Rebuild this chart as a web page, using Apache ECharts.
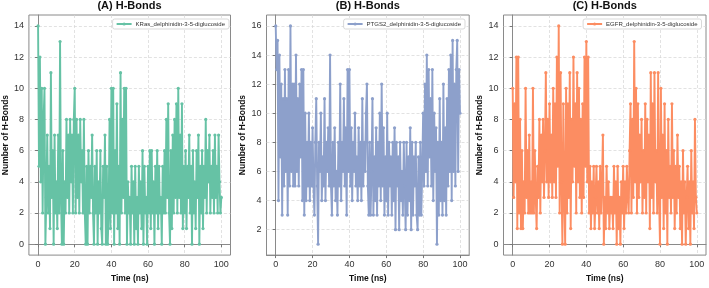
<!DOCTYPE html>
<html>
<head>
<meta charset="utf-8">
<script src="https://cdn.jsdelivr.net/npm/echarts@6/dist/echarts.min.js"></script>
<style>
  html, body { margin: 0; padding: 0; background: #fff; }
  #chart { width: 709px; height: 288px; }
</style>
</head>
<body>
<div id="chart"></div>
<script>
// H-bond counts, one sample every 0.5 ns (0 - 100 ns)
const kras = [
  14, 5, 12, 4, 10, 2, 8, 10, 0, 3, 7, 2, 5, 1, 11, 3, 6, 0, 7, 2,
  4, 1, 7, 2, 13, 3, 0, 6, 0, 4, 2, 8, 3, 7, 2, 8, 4, 7, 2, 8,
  10, 2, 8, 3, 7, 2, 8, 4, 6, 2, 8, 2, 0, 5, 0, 6, 2, 5, 3, 7,
  2, 0, 5, 2, 6, 0, 4, 2, 6, 1, 0, 5, 3, 7, 0, 5, 0, 2, 8, 1,
  10, 2, 10, 0, 6, 2, 9, 1, 5, 0, 11, 2, 8, 3, 10, 2, 10, 0, 4, 2,
  3, 0, 5, 2, 4, 0, 5, 1, 3, 0, 5, 2, 4, 1, 6, 0, 5, 2, 3, 0,
  5, 2, 6, 1, 6, 2, 4, 0, 5, 2, 6, 1, 5, 2, 3, 0, 5, 2, 6, 2,
  8, 3, 9, 2, 0, 6, 1, 7, 2, 8, 3, 9, 2, 10, 3, 7, 2, 9, 1, 5,
  2, 6, 1, 5, 3, 7, 2, 5, 0, 6, 2, 4, 1, 6, 3, 7, 0, 5, 2, 6,
  1, 5, 3, 8, 2, 6, 4, 7, 2, 5, 3, 6, 2, 7, 3, 5, 2, 7, 4, 2, 3
];
const ptgs2 = [
  16, 13, 15, 4, 14, 7, 12, 3, 11, 5, 13, 6, 11, 3, 13, 5, 16, 6, 12, 5,
  12, 5, 14, 6, 11, 5, 12, 7, 13, 4, 13, 3, 10, 4, 8, 5, 10, 4, 8, 5,
  9, 5, 3, 8, 11, 5, 1, 8, 6, 10, 4, 7, 5, 11, 4, 8, 6, 9, 5, 14,
  5, 3, 8, 5, 9, 4, 6, 3, 8, 5, 12, 4, 8, 6, 11, 5, 9, 3, 13, 6,
  13, 5, 9, 4, 8, 6, 10, 5, 7, 4, 9, 5, 8, 4, 11, 5, 8, 6, 10, 12,
  5, 3, 8, 3, 6, 11, 3, 7, 4, 9, 3, 8, 5, 10, 4, 12, 5, 9, 3, 7,
  4, 10, 3, 8, 5, 7, 3, 8, 4, 9, 2, 8, 5, 7, 2, 8, 4, 6, 3, 8,
  5, 2, 8, 3, 7, 4, 9, 2, 8, 3, 7, 5, 8, 3, 2, 7, 3, 8, 3, 6,
  10, 5, 12, 6, 14, 5, 13, 7, 11, 5, 13, 4, 10, 6, 9, 1, 8, 3, 11, 4,
  8, 3, 12, 4, 9, 3, 11, 5, 13, 6, 14, 4, 15, 6, 12, 5, 13, 15, 6, 13, 10
];
const egfr = [
  10, 3, 9, 4, 12, 1, 12, 2, 8, 1, 6, 1, 4, 2, 10, 3, 6, 2, 7, 2,
  4, 2, 10, 2, 6, 3, 1, 5, 3, 8, 2, 7, 4, 8, 3, 6, 11, 4, 8, 3,
  9, 4, 7, 3, 10, 4, 9, 3, 12, 5, 14, 2, 11, 4, 0, 9, 3, 0, 10, 2,
  9, 3, 11, 1, 8, 4, 12, 5, 9, 2, 11, 4, 10, 3, 8, 2, 9, 3, 12, 5,
  13, 4, 12, 2, 5, 1, 4, 2, 5, 1, 3, 5, 2, 4, 1, 5, 2, 4, 7, 0,
  3, 1, 5, 2, 4, 1, 3, 2, 3, 1, 5, 2, 4, 0, 5, 1, 3, 0, 4, 2,
  5, 1, 4, 2, 5, 3, 2, 6, 9, 2, 8, 3, 13, 4, 10, 2, 9, 3, 7, 4,
  8, 2, 6, 3, 9, 2, 8, 4, 7, 1, 11, 3, 9, 2, 11, 4, 6, 2, 11, 3,
  0, 10, 3, 7, 1, 9, 2, 6, 0, 8, 3, 5, 2, 9, 3, 6, 1, 5, 2, 7,
  3, 5, 1, 4, 0, 6, 2, 4, 0, 3, 5, 1, 4, 0, 6, 2, 4, 1, 8, 3, 2
];
const xTicks = [0, 20, 40, 60, 80, 100];
const yTicksA = [0, 2, 4, 6, 8, 10, 12, 14];
const yTicksB = [2, 4, 6, 8, 10, 12, 14, 16];
const yTicksC = [0, 2, 4, 6, 8, 10, 12, 14];

const panels = [
  { title: "(A) H-Bonds", name: "KRas_delphinidin-3-5-diglucoside", data: kras, color: "#66c2a5",
    left: 28.5, width: 202, ymin: -0.7, ymax: 14.7, yticks: yTicksA, legendRight: 480, nameGap: 18 },
  { title: "(B) H-Bonds", name: "PTGS2_delphinidin-3-5-diglucoside", data: ptgs2, color: "#8da0cb",
    left: 266.5, width: 202.7, ymin: 0.25, ymax: 16.75, yticks: yTicksB, legendRight: 244, nameGap: 17 },
  { title: "(C) H-Bonds", name: "EGFR_delphinidin-3-5-diglucoside", data: egfr, color: "#fc8d62",
    left: 503.5, width: 202.5, ymin: -0.7, ymax: 14.7, yticks: yTicksC, legendRight: 7.5, nameGap: 17 },
];

const font = "Liberation Sans";
const chart = echarts.init(document.getElementById("chart"));

const option = {
  animation: false,
  backgroundColor: "#fff",
  textStyle: { fontFamily: font },
  title: panels.map((p) => ({
    text: p.title,
    left: p.left + p.width / 2,
    textAlign: "center",
    top: 0,
    padding: 0,
    textStyle: { fontFamily: font, fontSize: 11, fontWeight: "bold", color: "#111" },
  })),
  legend: panels.map((p) => ({
    data: [p.name],
    right: p.legendRight,
    top: 19,
    orient: "horizontal",
    padding: [2, 4, 2, 3],
    itemWidth: 15,
    itemHeight: 4,
    itemGap: 0,
    backgroundColor: "#fff",
    borderColor: "#cfcfcf",
    borderWidth: 0.8,
    borderRadius: 2,
    textStyle: { fontFamily: font, fontSize: 6, color: "#333", padding: [0, 0, 0, -1] },
  })),
  grid: panels.map((p) => ({
    left: p.left,
    top: 15,
    width: p.width,
    height: 245.5,
    show: true,
    borderColor: "#8a8a8a",
    borderWidth: 1,
    backgroundColor: "#fff",
  })),
  xAxis: panels.map((p, i) => ({
    type: "value",
    gridIndex: i,
    min: -5,
    max: 105,
    name: "Time (ns)",
    nameLocation: "middle",
    nameGap: 16,
    nameTextStyle: { fontFamily: font, fontSize: 8.5, fontWeight: "bold", color: "#111" },
    axisLine: { show: true, lineStyle: { color: "#8a8a8a", width: 1 } },
    axisTick: { show: true, length: 3, customValues: xTicks, lineStyle: { color: "#777" } },
    axisLabel: { customValues: xTicks, margin: 5, fontSize: 9, color: "#333", fontFamily: font },
    splitLine: { show: true, lineStyle: { color: "#d6d6d6", type: [3, 2], width: 0.7 } },
  })),
  yAxis: panels.map((p, i) => ({
    type: "value",
    gridIndex: i,
    min: p.ymin,
    max: p.ymax,
    name: "Number of H-Bonds",
    nameLocation: "middle",
    nameGap: p.nameGap,
    nameTextStyle: { fontFamily: font, fontSize: 8.5, fontWeight: "bold", color: "#111" },
    axisLine: { show: true, lineStyle: { color: "#8a8a8a", width: 1 } },
    axisTick: { show: true, length: 3, customValues: p.yticks, lineStyle: { color: "#777" } },
    axisLabel: { customValues: p.yticks, margin: 5, fontSize: 9, color: "#333", fontFamily: font },
    splitLine: { show: true, lineStyle: { color: "#d6d6d6", type: [3, 2], width: 0.7 } },
  })),
  series: panels.map((p, i) => ({
    name: p.name,
    type: "line",
    xAxisIndex: i,
    yAxisIndex: i,
    data: p.data.map((v, k) => [(k * 100) / (p.data.length - 1), v]),
    symbol: "circle",
    symbolSize: 3.2,
    showAllSymbol: true,
    color: p.color,
    lineStyle: { width: 1.9, color: p.color },
    itemStyle: { color: p.color },
    z: 3,
  })),
};

chart.setOption(option);
</script>
</body>
</html>
